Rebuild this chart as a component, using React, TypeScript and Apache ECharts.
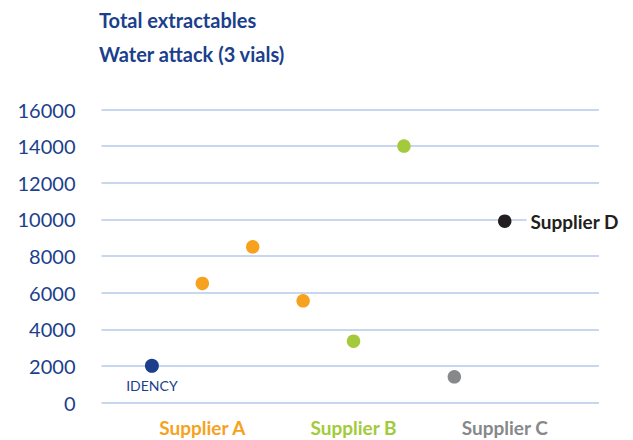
import React, { useEffect, useRef } from "react";
import * as echarts from "echarts";

// Data
const groupNames = ["IDENCY", "Supplier A", "Supplier B", "Supplier C", "Supplier D"];
const idencyValues = [2000];
const supplierAValues = [6500, 8500, 5550];
const supplierBValues = [3350, 14000];
const supplierCValues = [1400];
const supplierDValues = [9900];
const yTicks = [0, 2000, 4000, 6000, 8000, 10000, 12000, 14000, 16000];
const xLabelSlots: Record<number, string> = { 2: "Supplier A", 5: "Supplier B", 8: "Supplier C" };

const BLUE = "#1B3F8B";
const ORANGE = "#F7A21E";
const GREEN = "#A3CA3A";
const GRAY = "#87888A";
const BLACK = "#231F20";
const GRID = "#B6C9E8";
const FONT = "Lato, 'Noto Sans', sans-serif";

export default function App() {
  const ref = useRef<HTMLDivElement>(null);
  useEffect(() => {
    if (!ref.current) return;
    const chart = echarts.init(ref.current, undefined, { renderer: "svg" });

    // sequential slot positions along the x axis
    let slot = 1;
    const toPoints = (vals: number[]) => vals.map((v) => [slot++, v]);
    const idPts = toPoints(idencyValues);
    const aPts = toPoints(supplierAValues);
    const bPts = toPoints(supplierBValues);
    const cPts = toPoints(supplierCValues);
    const dPts = toPoints(supplierDValues);

    const labelColors: Record<string, string> = {
      "Supplier A": ORANGE,
      "Supplier B": GREEN,
      "Supplier C": GRAY,
    };

    chart.setOption({
      animation: false,
      title: [
        {
          text: "Total extractables",
          left: 94,
          top: 5,
          textStyle: { color: BLUE, fontSize: 20, fontWeight: "bold", fontFamily: FONT },
        },
        {
          text: "Water attack (3 vials)",
          left: 94,
          top: 39,
          textStyle: { color: BLUE, fontSize: 20, fontWeight: "bold", fontFamily: FONT },
        },
      ],
      grid: { left: 101.5, right: 34, top: 109.5, bottom: 37.5, containLabel: false },
      xAxis: {
        type: "value",
        min: 0,
        max: 9.87,
        interval: 1,
        axisLine: { show: false },
        axisTick: { show: false },
        splitLine: { show: false },
        axisLabel: {
          margin: 15,
          showMinLabel: true,
          showMaxLabel: false,
          formatter: (v: number) => {
            const name = xLabelSlots[Math.round(v)];
            if (!name || Math.abs(v - Math.round(v)) > 1e-6) return "";
            const key = name === "Supplier A" ? "a" : name === "Supplier B" ? "b" : "c";
            return `{${key}|${name}}`;
          },
          rich: {
            a: { color: labelColors["Supplier A"], fontSize: 19, fontWeight: "bold", fontFamily: FONT },
            b: { color: labelColors["Supplier B"], fontSize: 19, fontWeight: "bold", fontFamily: FONT },
            c: { color: labelColors["Supplier C"], fontSize: 19, fontWeight: "bold", fontFamily: FONT },
          },
        },
      },
      yAxis: {
        type: "value",
        min: yTicks[0],
        max: yTicks[yTicks.length - 1],
        interval: yTicks[1] - yTicks[0],
        axisLine: { show: false },
        axisTick: { show: false },
        axisLabel: {
          color: BLUE,
          fontSize: 20,
          fontFamily: FONT,
          margin: 26,
          formatter: (v: number) => String(v),
        },
        splitLine: { lineStyle: { color: GRID, width: 1.5 } },
      },
      series: [
        {
          name: groupNames[0],
          type: "scatter",
          data: idPts,
          symbolSize: 14,
          itemStyle: { color: BLUE, opacity: 1 },
          label: {
            show: true,
            position: "bottom",
            distance: 6,
            formatter: groupNames[0],
            color: BLUE,
            fontSize: 14,
            fontFamily: FONT,
          },
        },
        { name: groupNames[1], type: "scatter", data: aPts, symbolSize: 13.5, itemStyle: { color: ORANGE, opacity: 1 } },
        { name: groupNames[2], type: "scatter", data: bPts, symbolSize: 13.5, itemStyle: { color: GREEN, opacity: 1 } },
        { name: groupNames[3], type: "scatter", data: cPts, symbolSize: 13.5, itemStyle: { color: GRAY, opacity: 1 } },
        {
          name: groupNames[4],
          type: "scatter",
          data: dPts,
          symbolSize: 13.5,
          itemStyle: { color: BLACK, opacity: 1 },
          label: {
            show: true,
            position: "right",
            distance: 15,
            formatter: groupNames[4],
            color: BLACK,
            fontSize: 19,
            fontWeight: "bold",
            fontFamily: FONT,
            backgroundColor: "#ffffff",
            padding: [2, 4, 2, 4],
          },
        },
      ],
    });
    return () => chart.dispose();
  }, []);
  return (
    <div
      ref={ref}
      style={{ position: "absolute", left: 0, top: 0, width: 633, height: 440, background: "#fff" }}
    />
  );
}
